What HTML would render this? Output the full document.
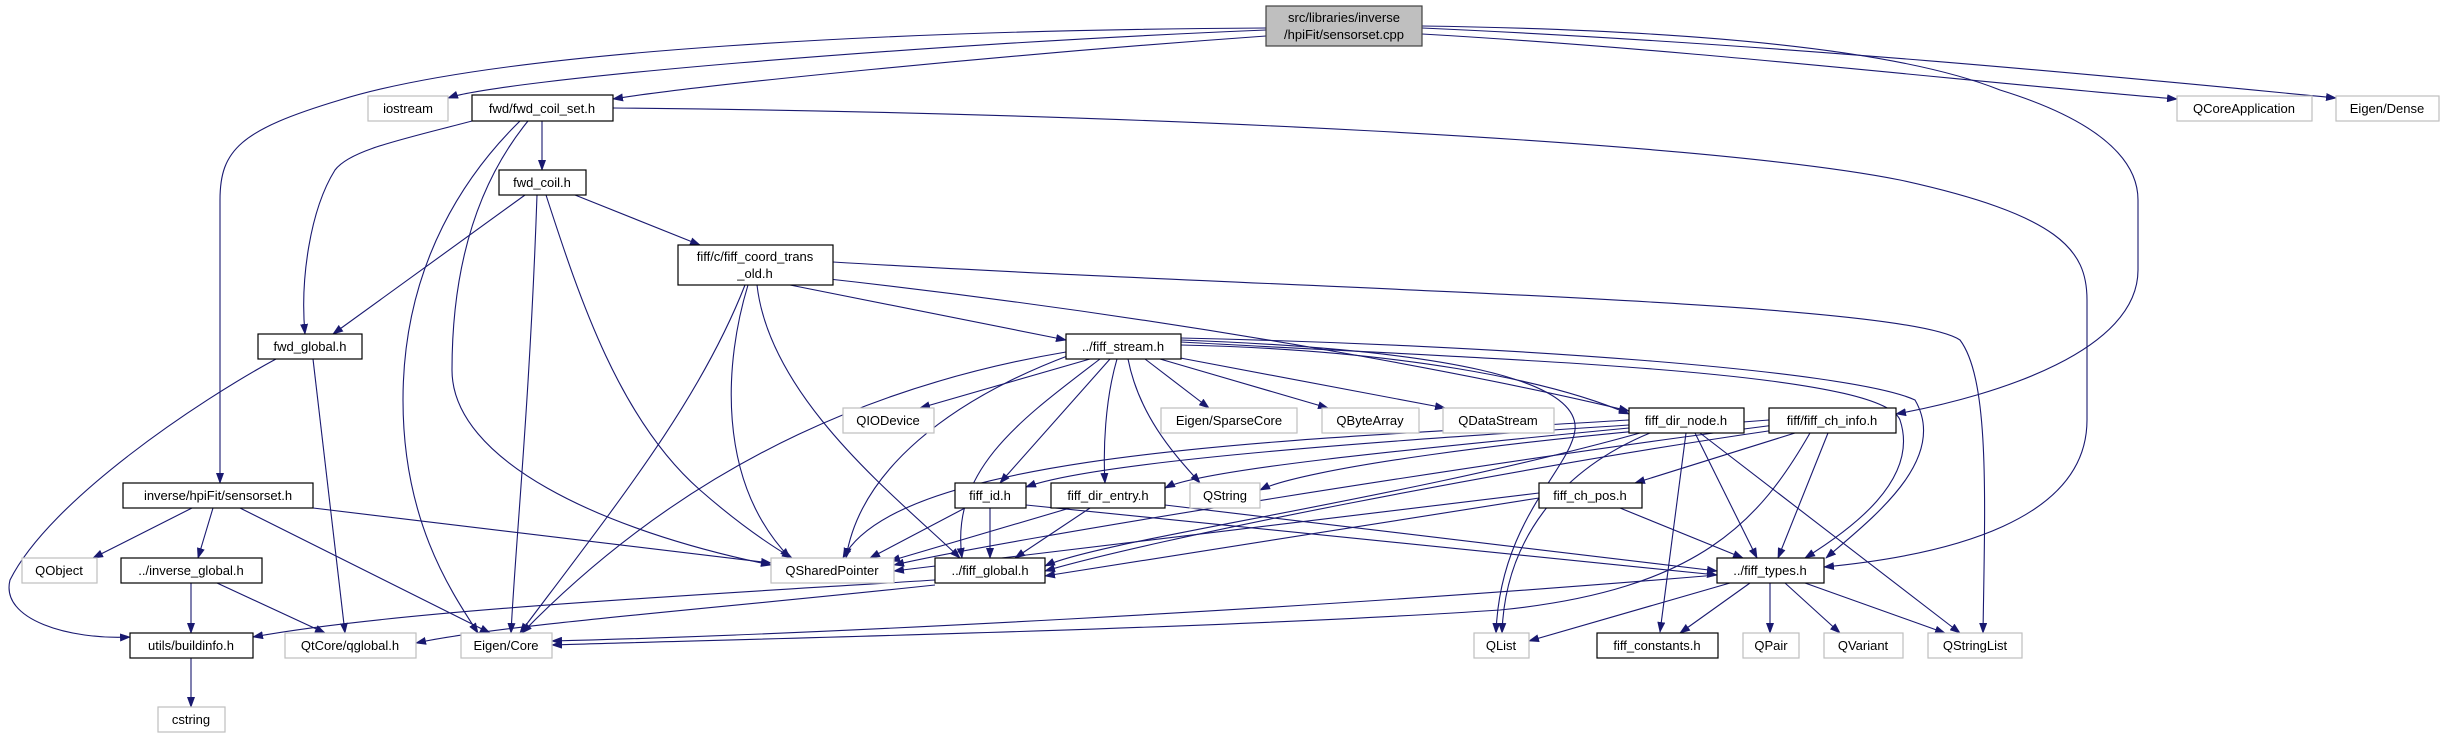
<!DOCTYPE html>
<html><head><meta charset="utf-8"><style>
html,body{margin:0;padding:0;background:#fff;}
svg{display:block;}
text{font-family:"Liberation Sans","DejaVu Sans",sans-serif;font-size:13px;fill:#000;}
.e{fill:none;stroke:#191970;stroke-width:1.1;marker-end:url(#a);}
.n{fill:#fff;stroke:#000;stroke-width:1.2;}
.x{fill:#fff;stroke:#bfbfbf;stroke-width:1.2;}
</style></head><body>
<svg width="2440" height="739" viewBox="0 0 2440 739" xmlns="http://www.w3.org/2000/svg">
<defs><marker id="a" markerUnits="userSpaceOnUse" markerWidth="11" markerHeight="8" refX="10" refY="4" orient="auto"><path d="M0,0 L11,4 L0,8 z" fill="#191970"/></marker></defs>
<g>
<path class="e" d="M1266,30 C900,45 500,80 448,98"/>
<path class="e" d="M1266,36 C1000,55 700,85 613,99"/>
<path class="e" d="M1266,28 C900,30 500,50 340,100 C240,130 220,150 220,200 L220,483"/>
<path class="e" d="M1422,34 C1700,50 2000,85 2177,99"/>
<path class="e" d="M1422,28 C1800,45 2150,80 2336,98"/>
<path class="e" d="M1422,26 C1700,30 1900,50 2000,90 C2130,130 2138,180 2138,200 L2138,270 C2138,350 2000,395 1896,414"/>
<path class="e" d="M542,121 L542,170"/>
<path class="e" d="M472,121 C400,140 350,150 335,170 C310,210 300,280 305,334"/>
<path class="e" d="M520,121 C470,170 403,260 403,400 C403,520 450,590 478,633"/>
<path class="e" d="M528,121 C480,180 452,260 452,370 C452,460 600,530 771,565"/>
<path class="e" d="M613,108 C1100,112 1700,140 1900,180 C2060,215 2087,250 2087,300 L2087,420 C2087,520 1950,555 1824,567"/>
<path class="e" d="M525,195 L333,334"/>
<path class="e" d="M575,195 L700,245"/>
<path class="e" d="M537,195 C530,400 515,550 511,633"/>
<path class="e" d="M546,195 C580,300 620,420 700,490 C740,525 770,545 792,558"/>
<path class="e" d="M790,285 L1066,340"/>
<path class="e" d="M820,278 C1200,320 1500,380 1629,411"/>
<path class="e" d="M748,285 C725,360 715,480 790,558"/>
<path class="e" d="M745,285 C700,400 620,500 520,633"/>
<path class="e" d="M757,285 C770,400 900,500 960,558"/>
<path class="e" d="M833,262 C1300,290 1900,300 1960,340 C1990,380 1985,500 1983,633"/>
<path class="e" d="M276,359 C200,400 50,500 10,580 C0,620 70,640 130,637"/>
<path class="e" d="M313,359 L345,633"/>
<path class="e" d="M192,508 L93,558"/>
<path class="e" d="M213,508 L198,558"/>
<path class="e" d="M240,508 L490,633"/>
<path class="e" d="M313,508 L771,563"/>
<path class="e" d="M191,583 L191,633"/>
<path class="e" d="M217,583 L325,633"/>
<path class="e" d="M191,658 L191,707"/>
<path class="e" d="M935,580 C700,595 400,610 253,637"/>
<path class="e" d="M935,585 C700,610 500,625 416,643"/>
<path class="e" d="M1717,575 C1300,610 800,635 552,641"/>
<path class="e" d="M1810,433 C1760,520 1700,590 1500,610 C1200,630 700,640 552,645"/>
<path class="e" d="M1090,359 L920,408"/>
<path class="e" d="M1145,359 L1209,408"/>
<path class="e" d="M1160,359 L1328,408"/>
<path class="e" d="M1175,357 L1445,408"/>
<path class="e" d="M1181,345 C1400,350 1550,380 1629,414"/>
<path class="e" d="M1110,359 L1000,483"/>
<path class="e" d="M1117,359 C1105,400 1103,450 1105,483"/>
<path class="e" d="M1128,359 C1140,420 1180,460 1200,483"/>
<path class="e" d="M1070,355 C950,400 860,470 846,558"/>
<path class="e" d="M1100,359 C1020,420 950,470 962,558"/>
<path class="e" d="M1066,352 C900,380 700,450 522,633"/>
<path class="e" d="M1181,340 C1450,350 1580,380 1575,430 C1570,470 1500,520 1496,633"/>
<path class="e" d="M1181,338 C1500,345 1850,370 1915,400 C1950,460 1870,520 1826,558"/>
<path class="e" d="M1181,342 C1500,360 1880,370 1900,420 C1920,480 1850,530 1805,558"/>
<path class="e" d="M1629,425 C1400,440 1100,460 1026,487"/>
<path class="e" d="M1629,428 C1400,450 1200,470 1165,488"/>
<path class="e" d="M1629,420 C1300,440 900,450 843,558"/>
<path class="e" d="M1640,433 C1400,500 1100,540 1045,566"/>
<path class="e" d="M1650,433 C1560,470 1505,540 1502,633"/>
<path class="e" d="M1695,433 L1757,558"/>
<path class="e" d="M1686,433 L1660,632"/>
<path class="e" d="M1700,433 L1960,633"/>
<path class="e" d="M1795,433 L1635,483"/>
<path class="e" d="M1769,420 C1500,440 1300,470 1260,490"/>
<path class="e" d="M1775,430 C1500,470 1150,540 1045,571"/>
<path class="e" d="M1775,425 C1500,460 1000,540 894,565"/>
<path class="e" d="M1828,433 L1778,558"/>
<path class="e" d="M1539,498 L1045,576"/>
<path class="e" d="M1539,493 L894,571"/>
<path class="e" d="M1620,508 L1743,558"/>
<path class="e" d="M990,508 L990,558"/>
<path class="e" d="M965,508 L870,558"/>
<path class="e" d="M1026,505 L1717,575"/>
<path class="e" d="M1090,508 L1015,558"/>
<path class="e" d="M1070,508 L890,561"/>
<path class="e" d="M1165,505 L1717,571"/>
<path class="e" d="M1750,583 L1680,633"/>
<path class="e" d="M1770,583 L1770,633"/>
<path class="e" d="M1785,583 L1840,633"/>
<path class="e" d="M1805,583 L1945,633"/>
<path class="e" d="M1730,583 L1529,641"/>
</g>
<g text-anchor="middle">
<rect x="1266" y="6" width="156" height="40" fill="#bfbfbf" stroke="#404040" stroke-width="1.2"/>
<text x="1344" y="22">src/libraries/inverse</text><text x="1344" y="39">/hpiFit/sensorset.cpp</text>
<rect class="x" x="368" y="96" width="80" height="25"/><text x="408" y="113">iostream</text>
<rect class="n" x="472" y="95" width="141" height="26"/><text x="542" y="113">fwd/fwd_coil_set.h</text>
<rect class="x" x="2177" y="96" width="135" height="25"/><text x="2244" y="113">QCoreApplication</text>
<rect class="x" x="2336" y="96" width="103" height="25"/><text x="2387" y="113">Eigen/Dense</text>
<rect class="n" x="499" y="170" width="87" height="25"/><text x="542" y="187">fwd_coil.h</text>
<rect class="n" x="678" y="245" width="155" height="40"/><text x="755" y="261">fiff/c/fiff_coord_trans</text><text x="755" y="278">_old.h</text>
<rect class="n" x="258" y="334" width="104" height="25"/><text x="310" y="351">fwd_global.h</text>
<rect class="n" x="1066" y="334" width="115" height="25"/><text x="1123" y="351">../fiff_stream.h</text>
<rect class="x" x="843" y="408" width="91" height="25"/><text x="888" y="425">QIODevice</text>
<rect class="x" x="1161" y="408" width="136" height="25"/><text x="1229" y="425">Eigen/SparseCore</text>
<rect class="x" x="1322" y="408" width="97" height="25"/><text x="1370" y="425">QByteArray</text>
<rect class="x" x="1443" y="408" width="111" height="25"/><text x="1498" y="425">QDataStream</text>
<rect class="n" x="1629" y="408" width="115" height="25"/><text x="1686" y="425">fiff_dir_node.h</text>
<rect class="n" x="1769" y="408" width="127" height="25"/><text x="1832" y="425">fiff/fiff_ch_info.h</text>
<rect class="n" x="123" y="483" width="190" height="25"/><text x="218" y="500">inverse/hpiFit/sensorset.h</text>
<rect class="n" x="955" y="483" width="71" height="25"/><text x="990" y="500">fiff_id.h</text>
<rect class="n" x="1051" y="483" width="114" height="25"/><text x="1108" y="500">fiff_dir_entry.h</text>
<rect class="x" x="1190" y="483" width="70" height="25"/><text x="1225" y="500">QString</text>
<rect class="n" x="1539" y="483" width="103" height="25"/><text x="1590" y="500">fiff_ch_pos.h</text>
<rect class="x" x="22" y="558" width="75" height="25"/><text x="59" y="575">QObject</text>
<rect class="n" x="121" y="558" width="141" height="25"/><text x="191" y="575">../inverse_global.h</text>
<rect class="x" x="771" y="558" width="123" height="25"/><text x="832" y="575">QSharedPointer</text>
<rect class="n" x="935" y="558" width="110" height="25"/><text x="990" y="575">../fiff_global.h</text>
<rect class="n" x="1717" y="558" width="107" height="25"/><text x="1770" y="575">../fiff_types.h</text>
<rect class="n" x="130" y="633" width="123" height="25"/><text x="191" y="650">utils/buildinfo.h</text>
<rect class="x" x="285" y="633" width="131" height="25"/><text x="350" y="650">QtCore/qglobal.h</text>
<rect class="x" x="461" y="633" width="91" height="25"/><text x="506" y="650">Eigen/Core</text>
<rect class="x" x="1474" y="633" width="55" height="25"/><text x="1501" y="650">QList</text>
<rect class="n" x="1597" y="633" width="121" height="25"/><text x="1657" y="650">fiff_constants.h</text>
<rect class="x" x="1743" y="633" width="56" height="25"/><text x="1771" y="650">QPair</text>
<rect class="x" x="1824" y="633" width="79" height="25"/><text x="1863" y="650">QVariant</text>
<rect class="x" x="1928" y="633" width="94" height="25"/><text x="1975" y="650">QStringList</text>
<rect class="x" x="158" y="707" width="67" height="25"/><text x="191" y="724">cstring</text>
</g>
</svg>
</body></html>
